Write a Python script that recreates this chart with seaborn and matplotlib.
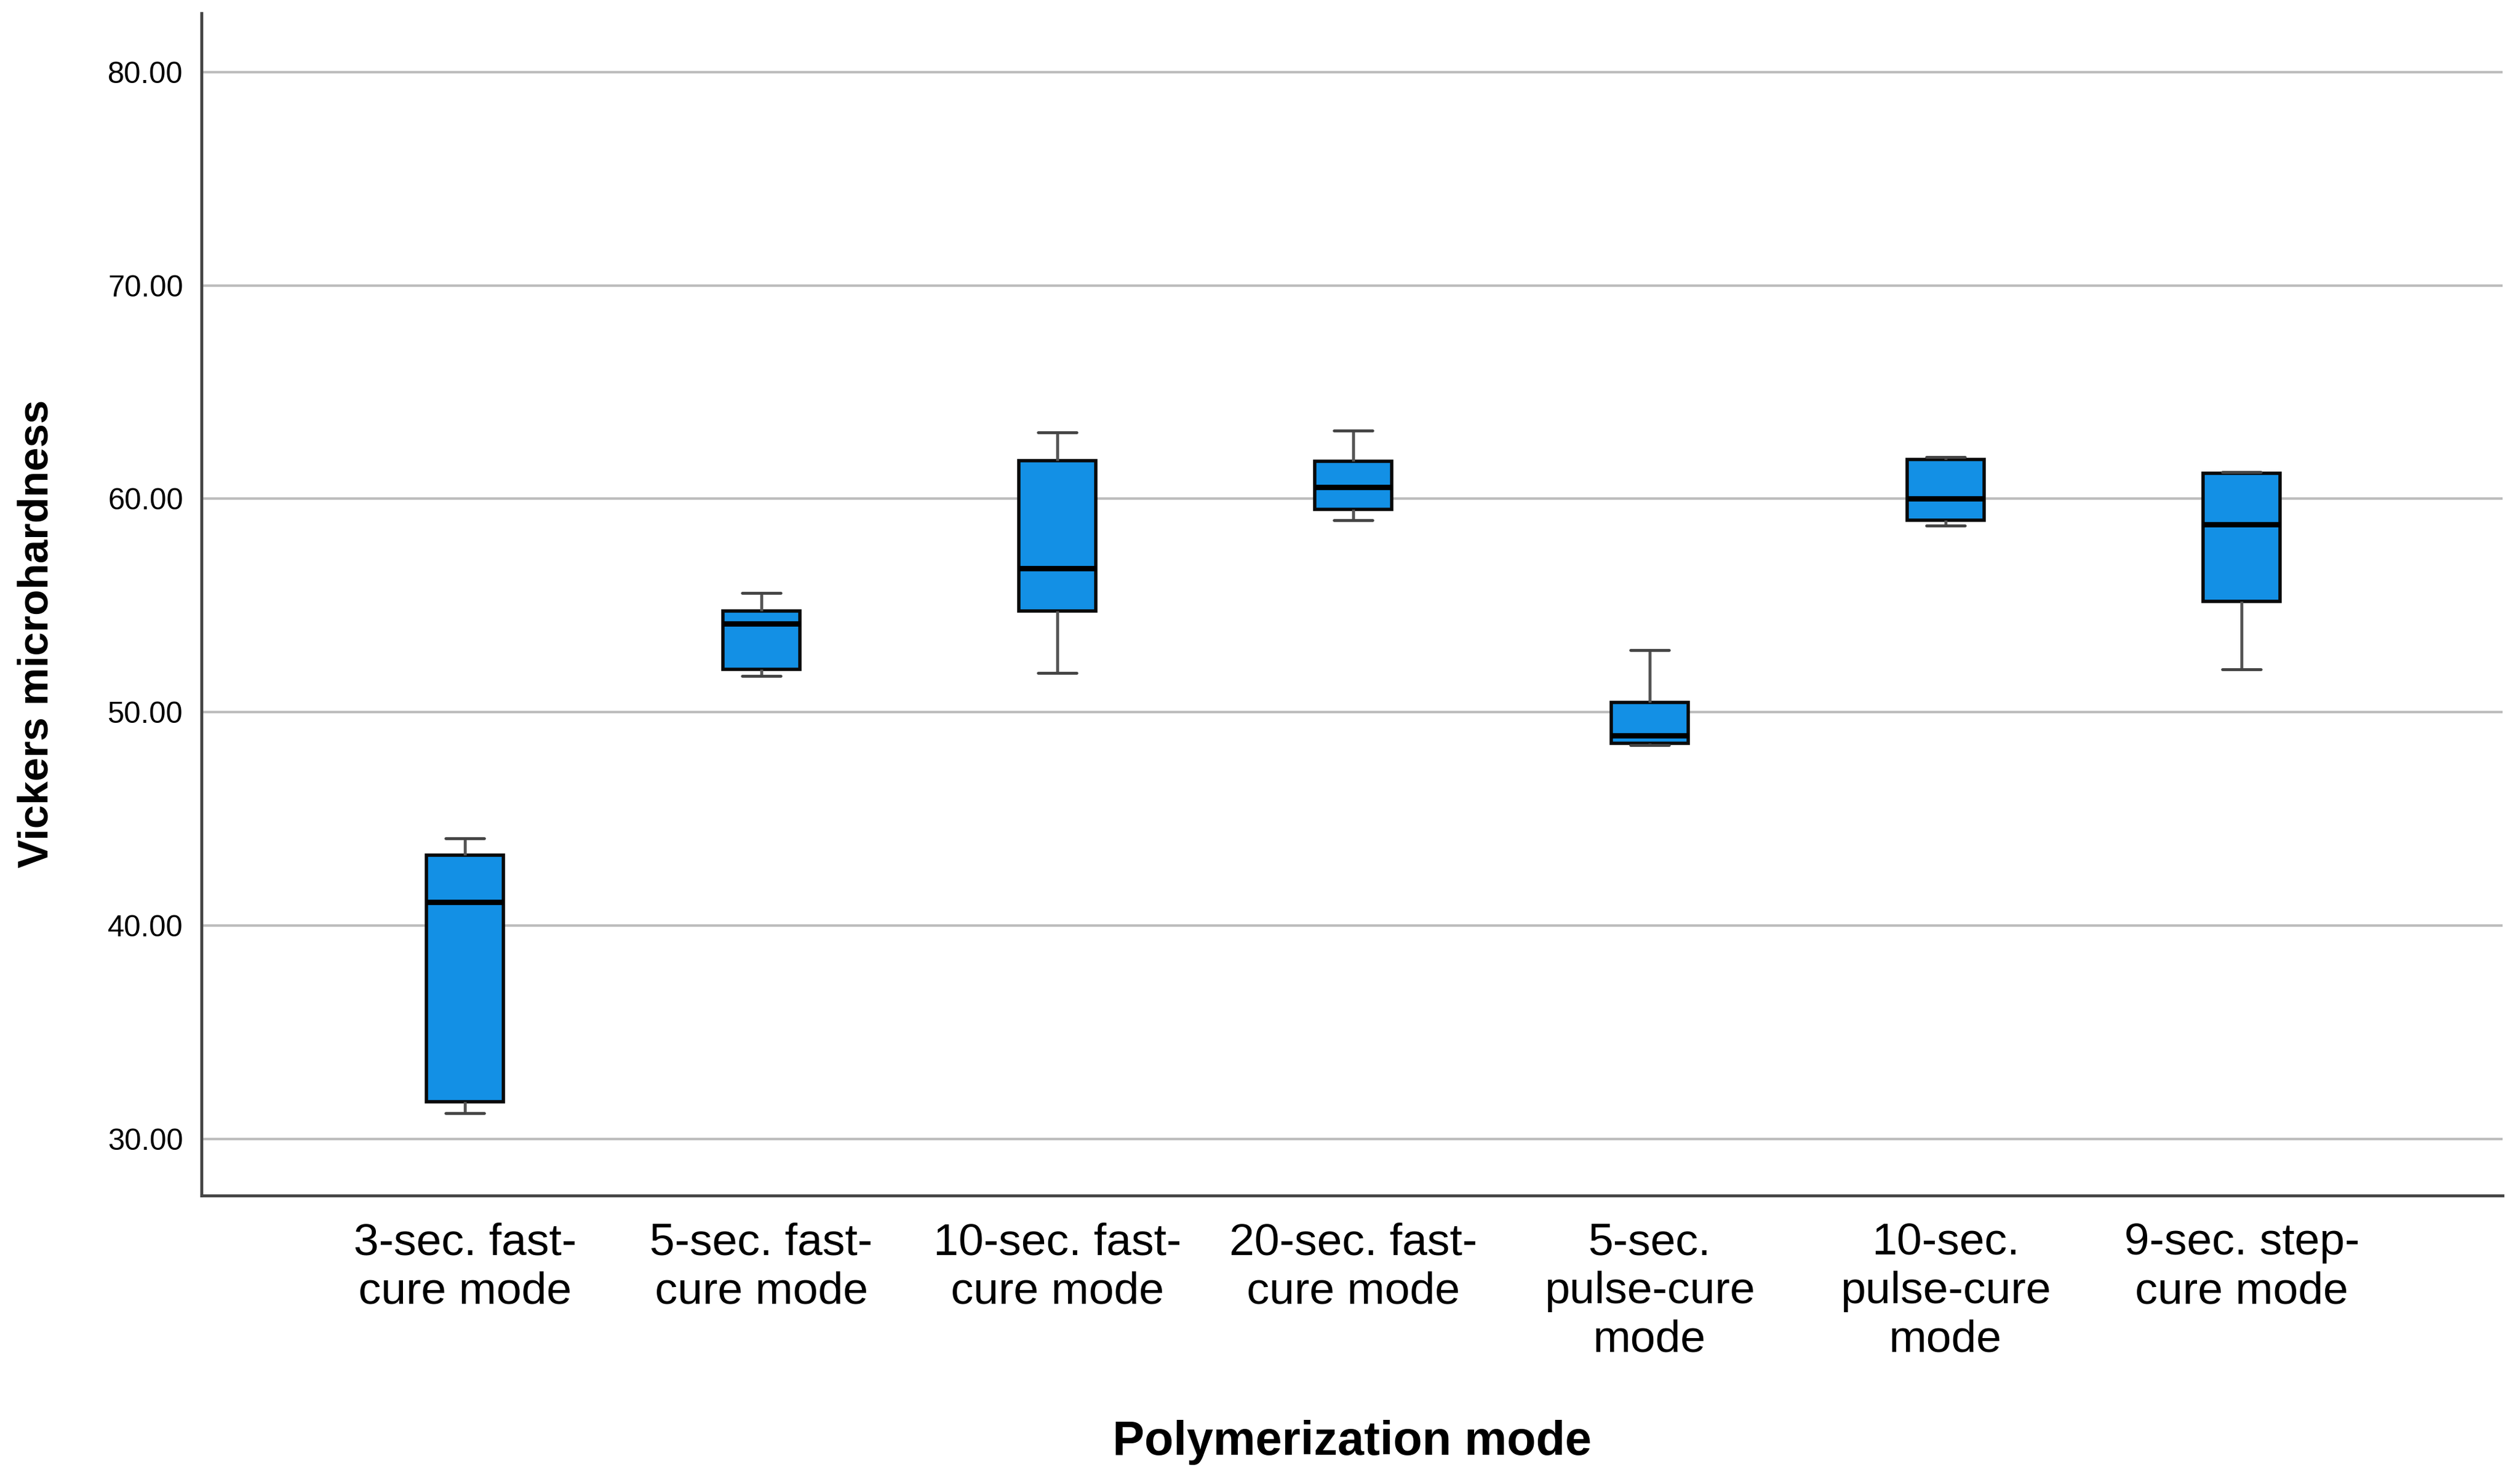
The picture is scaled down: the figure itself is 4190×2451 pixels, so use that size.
import numpy as np
import pandas as pd
import matplotlib
matplotlib.use("Agg")
import matplotlib.pyplot as plt
from matplotlib.ticker import FormatStrFormatter
import seaborn as sns

# ---- data ----
modes = ["3-sec. fast-\ncure mode", "5-sec. fast-\ncure mode", "10-sec. fast-\ncure mode",
         "20-sec. fast-\ncure mode", "5-sec.\npulse-cure\nmode", "10-sec.\npulse-cure\nmode",
         "9-sec. step-\ncure mode"]
mins = [31.2, 51.7, 51.85, 59.0, 48.45, 58.75, 52.0]
q1s = [31.75, 52.0, 54.75, 59.5, 48.55, 59.0, 55.2]
medians = [41.1, 54.15, 56.75, 60.55, 48.9, 60.0, 58.8]
q3s = [43.3, 54.75, 61.8, 61.75, 50.45, 61.85, 61.2]
maxs = [44.1, 55.6, 63.1, 63.2, 52.9, 61.95, 61.25]
yticks = [30, 40, 50, 60, 70, 80]

rows = []
for m, a, b, c, d, e in zip(modes, mins, q1s, medians, q3s, maxs):
    for v in (a, b, c, d, e):
        rows.append({"mode": m, "value": v})
df = pd.DataFrame(rows)

sns.set_theme(style="white")
plt.rcParams["font.family"] = ["Liberation Sans", "DejaVu Sans"]

fig = plt.figure(figsize=(41.9, 24.51), dpi=100)
ax = fig.add_axes([0.080, 0.189, 0.913, 0.802])

ax.set_axisbelow(True)
ax.yaxis.grid(True, color="#BDBDBD", linewidth=3)
ax.xaxis.grid(False)

sns.boxplot(data=df, x="mode", y="value", order=modes, ax=ax,
            color="#1390E5", saturation=1, width=0.26, whis=(0, 100),
            linewidth=3, linecolor="black", fliersize=0,
            boxprops=dict(edgecolor="#0A0A0A", linewidth=4),
            medianprops=dict(color="black", linewidth=6.5),
            whiskerprops=dict(color="#555555", linewidth=3.5),
            capprops=dict(color="#444444", linewidth=3.5))

ax.set_xlim(-0.89, 6.88)
ax.set_ylim(27.36, 82.75)
ax.set_yticks(yticks)
ax.yaxis.set_major_formatter(FormatStrFormatter("%.2f"))

for s in ("top", "right"):
    ax.spines[s].set_visible(False)
for s in ("left", "bottom"):
    ax.spines[s].set_color("#444444")
    ax.spines[s].set_linewidth(3.5)

ax.tick_params(axis="y", length=0, pad=22, labelsize=36, labelcolor="black")
ax.tick_params(axis="x", length=0, pad=32, labelsize=54, labelcolor="black")
for lab in ax.get_xticklabels():
    lab.set_linespacing(1.22)
    lab.set_multialignment("center")

ax.set_xlabel("Polymerization mode", fontsize=57, fontweight="bold", color="black")
ax.set_ylabel("Vickers microhardness", fontsize=51, fontweight="bold", color="black")
ax.xaxis.set_label_coords(0.5, -0.19)
ax.yaxis.set_label_coords(-0.063, 0.475)

fig.savefig("out.png", dpi=100)
